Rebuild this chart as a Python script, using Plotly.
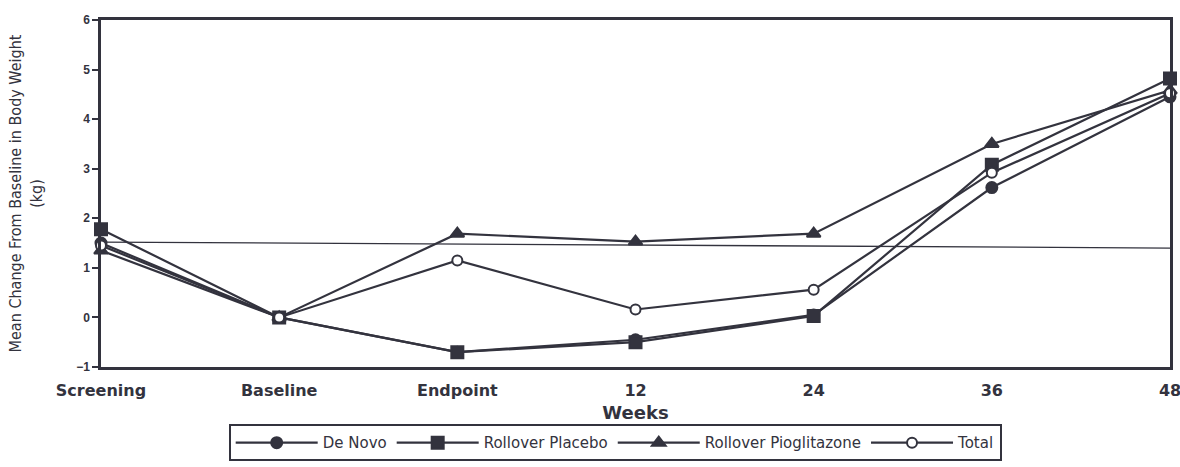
import plotly.graph_objects as go

categories = ["Screening", "Baseline", "Endpoint", "12", "24", "36", "48"]
de_novo = [1.50, 0.0, -0.70, -0.45, 0.05, 2.62, 4.45]
rollover_placebo = [1.78, 0.0, -0.70, -0.50, 0.03, 3.08, 4.82]
rollover_pioglitazone = [1.35, 0.0, 1.69, 1.53, 1.69, 3.50, 4.58]
total = [1.45, 0.0, 1.15, 0.16, 0.56, 2.92, 4.52]
ref_x = ["Screening", "48"]
ref_y = [1.52, 1.40]
y_ticks = [-1, 0, 1, 2, 3, 4, 5, 6]

ink = "#33333e"
fig = go.Figure()

fig.add_trace(go.Scatter(x=ref_x, y=ref_y, mode="lines",
                         line=dict(color=ink, width=1.3), showlegend=False, hoverinfo="skip"))

series = [
    ("De Novo", de_novo, "circle", 11, ink),
    ("Rollover Placebo", rollover_placebo, "square", 12, ink),
    ("Rollover Pioglitazone", rollover_pioglitazone, "triangle-up", 12, ink),
    ("Total", total, "circle", 10, "white"),
]
for name, vals, sym, sz, fill in series:
    fig.add_trace(go.Scatter(
        x=categories, y=vals, name=name, mode="lines+markers",
        line=dict(color=ink, width=2.2),
        marker=dict(symbol=sym, size=sz, color=fill, line=dict(color=ink, width=2)),
        cliponaxis=False,
    ))

fig.update_layout(
    width=1180, height=467,
    margin=dict(l=101, r=10, t=20, b=100, autoexpand=False),
    plot_bgcolor="white", paper_bgcolor="white",
    font=dict(family="Liberation Sans, Arial, sans-serif", color=ink),
    legend=dict(orientation="h", x=0.481, xanchor="center", y=-0.272, yanchor="bottom",
                bordercolor=ink, borderwidth=2,
                font=dict(size=15, color=ink, family="DejaVu Sans, sans-serif"),
                itemwidth=82, tracegroupgap=0),
    xaxis=dict(
        type="category", categoryorder="array", categoryarray=categories,
        range=[0, 6], showline=True, linecolor=ink, linewidth=3, mirror=True,
        showgrid=False, ticks="", zeroline=False, automargin=False,
        ticklabelstandoff=7,
        tickfont=dict(size=16, family="DejaVu Sans, sans-serif", weight="bold"),
        title=dict(text="<b>Weeks</b>", font=dict(size=18, family="DejaVu Sans, sans-serif"),
                   standoff=8),
    ),
    yaxis=dict(
        range=[-1, 6], tickvals=y_ticks, showline=True, linecolor=ink, linewidth=2.5,
        mirror=True, showgrid=False, zeroline=False, ticks="outside", ticklen=6,
        tickwidth=2, tickcolor=ink, automargin=False,
        tickfont=dict(size=12, weight="bold"),
        title=dict(text="Mean Change From Baseline in Body Weight<br>(kg)",
                   font=dict(size=16, family="Liberation Sans Narrow, DejaVu Sans Condensed, sans-serif"),
                   standoff=30),
    ),
)

fig.write_html("out.html", config={"displayModeBar": False},
               post_script="document.body.style.margin='0';")
